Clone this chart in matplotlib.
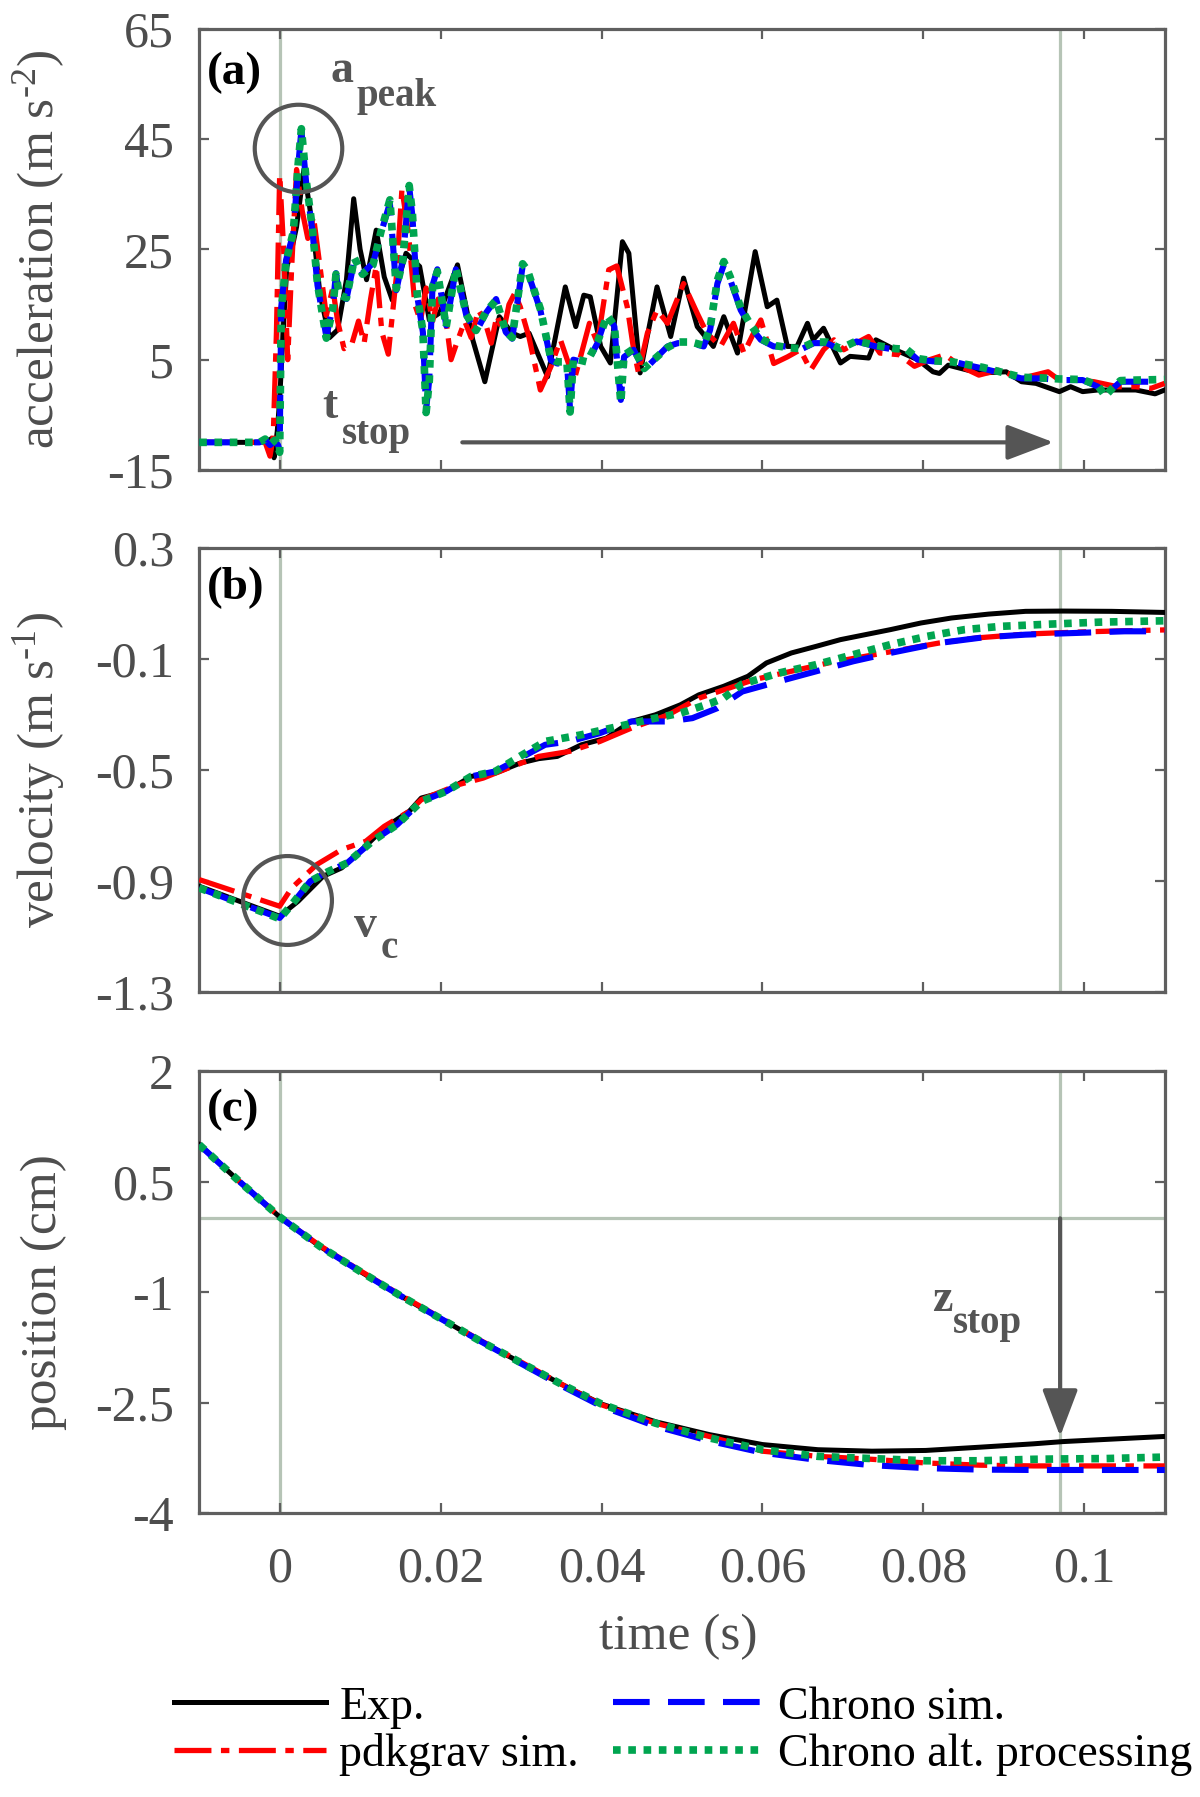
import matplotlib
matplotlib.use("Agg")
import matplotlib.pyplot as plt

plt.rcParams['font.family'] = 'serif'
plt.rcParams['font.serif'] = ['Liberation Serif', 'DejaVu Serif']
plt.rcParams['mathtext.fontset'] = 'custom'
plt.rcParams['mathtext.rm'] = 'Liberation Serif'
plt.rcParams['mathtext.it'] = 'Liberation Serif:italic'
plt.rcParams['mathtext.bf'] = 'Liberation Serif:bold'
plt.rcParams['axes.unicode_minus'] = False

# ---------------- data ----------------
# (a) acceleration, m s^-2
acc_exp_t = [-0.01, -0.006, -0.003, -0.0015, -0.001, -0.0007, -0.0003, 0.0, 0.0005, 0.0009,
             0.0015, 0.0021, 0.003, 0.0037, 0.0043, 0.005, 0.0062, 0.0072, 0.0083, 0.0092,
             0.0100, 0.0108, 0.0120, 0.0130, 0.0140, 0.0157, 0.0174, 0.0186, 0.0199, 0.0221,
             0.0240, 0.0255, 0.0273, 0.0289, 0.0299, 0.0310, 0.0333, 0.0355, 0.0368, 0.0378,
             0.0386, 0.0399, 0.0411, 0.0426, 0.0434, 0.0448, 0.0469, 0.0486, 0.0502, 0.0519,
             0.0539, 0.0552, 0.0569, 0.0591, 0.0606, 0.0618, 0.0631, 0.0643, 0.0656, 0.0663,
             0.0676, 0.0697, 0.0709, 0.0732, 0.0741, 0.0765, 0.0793, 0.0812, 0.0820, 0.0831,
             0.0855, 0.0874, 0.0903, 0.0922, 0.0940, 0.0969, 0.0983, 0.0998, 0.1017, 0.1064,
             0.1088, 0.1100]
acc_exp = [-10, -10, -10, -9.8, -9.3, -12.8, -8, -2.3, 12, 21.9,
           25, 29.1, 39.4, 33, 26.7, 17, 9.0, 10.4, 19.5, 34.2,
           25, 19.5, 28.5, 20, 15.8, 24.3, 21.9, 12.2, 13.5, 22.2,
           8.6, 1.0, 12.8, 9.8, 9.2, 9.8, 1.9, 18.2, 11.0, 16.7,
           16.4, 7.4, 4.4, 26.4, 24.3, 2.6, 18.2, 9.2, 19.8, 11.0,
           7.4, 12.8, 6.2, 24.6, 14.6, 15.8, 7.4, 7.4, 11.6, 8.6,
           10.7, 4.4, 5.6, 5.3, 8.6, 6.8, 5.0, 2.8, 2.5, 4.0,
           3.1, 2.6, 2.8, 1.0, 0.7, -0.8, 0.1, -0.8, -0.5, -0.5,
           -1.2, -0.5]

acc_pdk_t = [-0.01, -0.004, -0.0018, -0.0012, -0.0008, -0.0004, 0.0, 0.0005, 0.0010, 0.0015,
             0.0021, 0.0028, 0.0035, 0.0042, 0.0050, 0.0058, 0.0066, 0.0072, 0.0080, 0.0090,
             0.0098, 0.0105, 0.0113, 0.0120, 0.0127, 0.0135, 0.0145, 0.0152, 0.0160, 0.0168,
             0.0175, 0.0182, 0.0190, 0.0197, 0.0205, 0.0213, 0.0220, 0.0230, 0.0238, 0.0247,
             0.0255, 0.0263, 0.0270, 0.0278, 0.0285, 0.0292, 0.0299, 0.0310, 0.0324, 0.0337,
             0.0349, 0.0366, 0.0373, 0.0385, 0.0395, 0.0409, 0.0419, 0.0432, 0.0440, 0.0446,
             0.0457, 0.0469, 0.0482, 0.0502, 0.0519, 0.0531, 0.0548, 0.0564, 0.0577, 0.0589,
             0.0598, 0.0614, 0.0631, 0.0647, 0.0660, 0.0676, 0.0689, 0.0701, 0.0732, 0.0746,
             0.0770, 0.0789, 0.0808, 0.0827, 0.0846, 0.0869, 0.0893, 0.0922, 0.0955, 0.0969,
             0.0993, 0.1012, 0.1041, 0.1064, 0.1083, 0.1100]
acc_pdk = [-10, -10, -10, -12.5, -9, 10, 38.5, 25, 5, 22,
           39.5, 32, 27, 31, 22, 13, 18, 12, 7, 8,
           12, 8, 16, 22, 10, 6, 20, 36, 28, 15,
           12, 18, 12, 16, 14, 5, 8, 12, 9, 14,
           12, 8, 13, 10, 15, 17, 14.6, 9, -0.5, 3.7,
           8.6, 1.3, 5, 11.6, 8, 21.3, 22, 14.6, 6.8, 2.6,
           9.8, 14, 11.6, 18.8, 13.4, 9.8, 7.4, 11.6, 6.2, 9.8,
           12.2, 4.3, 5.5, 6.8, 3.1, 6.8, 8.6, 6.8, 9.2, 6.2,
           5.9, 3.8, 5, 5.9, 3.8, 2.2, 3.1, 1.6, 2.8, 1.3,
           1.3, 1.0, 0.1, 0.1, -0.2, 0.7]

acc_chrono_t = [-0.01, -0.004, -0.0025, -0.0018, -0.0012, -0.0006, -0.0002, 0.0, 0.0002, 0.0008,
                0.0017, 0.0023, 0.0027, 0.0033, 0.0041, 0.0047, 0.0058, 0.0066, 0.0070, 0.0074,
                0.0083, 0.0093, 0.0103, 0.0116, 0.0126, 0.0137, 0.0145, 0.0153, 0.0161, 0.0165,
                0.0171, 0.0178, 0.0182, 0.0186, 0.0190, 0.0196, 0.0207, 0.0219, 0.0232, 0.0244,
                0.0257, 0.0269, 0.0281, 0.0289, 0.0302, 0.0308, 0.0324, 0.0337, 0.0345, 0.0357,
                0.0361, 0.0365, 0.0382, 0.0395, 0.0407, 0.0416, 0.0419, 0.0424, 0.0428, 0.0440,
                0.0453, 0.0465, 0.0482, 0.0495, 0.0511, 0.0527, 0.0535, 0.0544, 0.0552, 0.0560,
                0.0573, 0.0585, 0.0598, 0.0614, 0.0631, 0.0647, 0.0664, 0.0680, 0.0697, 0.0717,
                0.0741, 0.0765, 0.0779, 0.0793, 0.0812, 0.0836, 0.0855, 0.0874, 0.0898, 0.0922,
                0.0946, 0.0969, 0.0998, 0.1017, 0.1026, 0.1038, 0.1045, 0.1064, 0.1100]
acc_chrono = [-10, -10, -10, -9.5, -10.5, -9.8, -10.5, -11.5, 14.6, 23.1,
              27.9, 40, 46.7, 37, 28, 18.5, 9.2, 14.6, 20.7, 16.5,
              16, 23.1, 20.7, 22.5, 28, 33.4, 17.6, 23.1, 36.4, 31,
              16.5, 10, -4.1, 1.5, 18.5, 21.4, 11.2, 21.4, 13, 10,
              13.6, 16, 10, 8.8, 22, 21, 14, 4.9, 4.3, 4.4,
              -4.1, 5, 4.4, 8, 13.4, 11, 5.5, -2.3, 5.5, 6.8,
              3.1, 4.9, 7.4, 8, 8, 7.4, 10.4, 18.8, 22.2, 19.5,
              14, 11, 8.6, 7.4, 7.4, 6.8, 8, 8, 6.8, 8.3,
              7.4, 6.8, 6.8, 5, 4.7, 4.7, 4, 3.4, 2.5, 1.6,
              1.6, 1.3, 1.3, 0.1, -1.4, 0.1, 1.0, 1.0, 1.0]
acc_alt = [-10, -10, -10, -9.4, -10.4, -9.6, -10.6, -11.8, 14.0, 22.8,
           28.2, 40.5, 46.9, 37.5, 28.4, 18.8, 8.9, 14.2, 20.5, 16.8,
           16.2, 23.4, 20.5, 22.2, 28.3, 34.0, 17.9, 23.0, 36.6, 31.5,
           16.8, 10.2, -4.6, 1.2, 18.2, 21.0, 11.0, 21.6, 13.2, 10.3,
           13.8, 15.8, 10.2, 9.0, 22.4, 21.2, 14.2, 5.2, 4.6, 4.6,
           -4.5, 5.2, 4.6, 8.2, 13.0, 11.2, 5.8, -2.8, 5.8, 7.0,
           3.4, 5.0, 7.2, 8.2, 8.2, 7.6, 10.8, 19.4, 22.8, 20.0,
           14.4, 11.4, 8.8, 7.6, 7.2, 7.0, 8.2, 8.2, 7.0, 8.4,
           7.6, 7.0, 6.9, 5.2, 4.8, 4.6, 4.1, 3.6, 2.7, 1.8,
           1.7, 1.5, 1.4, 0.3, -1.6, 0.3, 1.2, 1.3, 1.4]

# (b) velocity, m s^-1
vel_exp_t = [-0.01, -0.005, 0.0, 0.0023, 0.0054, 0.0077, 0.010, 0.013, 0.0161, 0.0176,
             0.0207, 0.0238, 0.0268, 0.0299, 0.0322, 0.0345, 0.0375, 0.0406, 0.0437, 0.0467,
             0.0498, 0.0521, 0.0552, 0.0582, 0.0605, 0.0636, 0.0667, 0.0697, 0.0728, 0.0759,
             0.0797, 0.0835, 0.0881, 0.0927, 0.0973, 0.1034, 0.11]
vel_exp = [-0.919, -0.973, -1.027, -0.973, -0.883, -0.853, -0.793, -0.709, -0.649, -0.601,
           -0.577, -0.523, -0.511, -0.475, -0.459, -0.451, -0.409, -0.385, -0.325, -0.301,
           -0.265, -0.229, -0.198, -0.162, -0.114, -0.078, -0.054, -0.030, -0.012, 0.006,
           0.030, 0.048, 0.062, 0.072, 0.073, 0.072, 0.068]

vel_pdk_t = [-0.01, -0.005, 0.0, 0.0015, 0.0046, 0.0077, 0.0107, 0.013, 0.0161, 0.0176,
             0.0222, 0.0253, 0.0284, 0.0322, 0.036, 0.0398, 0.0437, 0.0483, 0.0521, 0.0552,
             0.059, 0.0636, 0.0682, 0.0728, 0.0774, 0.082, 0.0866, 0.0927, 0.0989, 0.105, 0.11]
vel_pdk = [-0.895, -0.943, -0.991, -0.925, -0.841, -0.787, -0.757, -0.703, -0.649, -0.607,
           -0.553, -0.529, -0.493, -0.451, -0.433, -0.397, -0.349, -0.301, -0.241, -0.211,
           -0.174, -0.144, -0.114, -0.090, -0.066, -0.042, -0.024, -0.010, -0.003, 0.002, 0.005]

vel_chrono_t = [-0.01, -0.005, 0.0, 0.0015, 0.0038, 0.0061, 0.0084, 0.0115, 0.0146, 0.0176,
                0.0207, 0.0238, 0.0268, 0.0299, 0.033, 0.036, 0.0398, 0.0437, 0.0483, 0.0513,
                0.0544, 0.0575, 0.0621, 0.0667, 0.0713, 0.0759, 0.082, 0.0874, 0.0927, 0.0989,
                0.105, 0.11]
vel_chrono = [-0.925, -0.980, -1.033, -0.985, -0.901, -0.865, -0.835, -0.757, -0.697, -0.613,
              -0.577, -0.523, -0.505, -0.457, -0.409, -0.397, -0.367, -0.325, -0.325, -0.313,
              -0.277, -0.217, -0.180, -0.144, -0.108, -0.078, -0.042, -0.022, -0.012, -0.006,
              0.0, 0.0]

vel_alt_t = [-0.01, -0.005, 0.0, 0.0015, 0.0038, 0.0061, 0.0084, 0.0115, 0.0146, 0.0176,
             0.0207, 0.0238, 0.0268, 0.0299, 0.033, 0.0375, 0.0421, 0.0467, 0.0498, 0.0536,
             0.0552, 0.0575, 0.0621, 0.0667, 0.0713, 0.0759, 0.0805, 0.0851, 0.0897, 0.0958,
             0.1019, 0.11]
vel_alt = [-0.925, -0.980, -1.036, -0.985, -0.901, -0.865, -0.835, -0.757, -0.697, -0.613,
           -0.577, -0.523, -0.505, -0.450, -0.397, -0.373, -0.343, -0.313, -0.295, -0.259,
           -0.240, -0.190, -0.150, -0.120, -0.084, -0.048, -0.018, 0.006, 0.018, 0.026,
           0.033, 0.038]

# (c) position, cm
pos_t = [-0.01, -0.005, 0.0, 0.005, 0.01, 0.015, 0.02, 0.025, 0.03, 0.035,
         0.04, 0.0467, 0.0534, 0.06, 0.0669, 0.0736, 0.0803, 0.087, 0.0937, 0.0973,
         0.1027, 0.11]
pos_exp = [1.0, 0.5, 0.02, -0.38, -0.72, -1.05, -1.36, -1.67, -1.96, -2.25,
           -2.52, -2.76, -2.935, -3.07, -3.14, -3.16, -3.15, -3.106, -3.06, -3.03,
           -3.0, -2.96]
pos_pdk = [1.0, 0.5, 0.02, -0.37, -0.71, -1.04, -1.35, -1.66, -1.95, -2.25,
           -2.53, -2.78, -2.96, -3.16, -3.23, -3.27, -3.32, -3.35, -3.36, -3.36,
           -3.36, -3.36]
pos_chrono = [1.0, 0.5, 0.02, -0.38, -0.72, -1.05, -1.36, -1.67, -1.97, -2.27,
              -2.55, -2.82, -3.02, -3.18, -3.28, -3.35, -3.39, -3.41, -3.415, -3.415,
              -3.415, -3.415]
pos_alt = [1.0, 0.5, 0.02, -0.38, -0.72, -1.05, -1.36, -1.67, -1.96, -2.25,
           -2.52, -2.78, -2.98, -3.14, -3.23, -3.26, -3.29, -3.29, -3.27, -3.265,
           -3.26, -3.24]

labels = ['Exp.', 'pdkgrav sim.', 'Chrono sim.', 'Chrono alt. processing']

t_impact = 0.0
t_stop = 0.097

xticks = [0, 0.02, 0.04, 0.06, 0.08, 0.1]
xticklabels = ['0', '0.02', '0.04', '0.06', '0.08', '0.1']
acc_ticks = [-15, 5, 25, 45, 65]
vel_ticks = [-1.3, -0.9, -0.5, -0.1, 0.3]
pos_ticks = [-4, -2.5, -1, 0.5, 2]
pos_ticklabels = ['-4', '-2.5', '-1', '0.5', '2']

# ---------------- styling ----------------
TXT = '#4d4d4d'
SPINE = '#5f5f5f'
GUIDE = '#b6c4b6'
ANN = '#555555'

styles = [
    dict(color='black', lw=3.6, ls='-', zorder=3),
    dict(color='#ff0000', lw=3.8, ls=(0, (7, 1.8, 1.6, 1.8)), zorder=4),
    dict(color='#0000ff', lw=4.4, ls=(0, (6, 3)), zorder=5),
    dict(color='#00a550', lw=5.5, ls=(0, (1, 1)), zorder=6),
]

fig = plt.figure(figsize=(12, 17.97), dpi=100)
left, width = 0.166, 0.8046
ax_a = fig.add_axes([left, 0.7385, width, 0.2454])
ax_b = fig.add_axes([left, 0.448, width, 0.247])
ax_c = fig.add_axes([left, 0.158, width, 0.246])

series_a = [(acc_exp_t, acc_exp), (acc_pdk_t, acc_pdk), (acc_chrono_t, acc_chrono), (acc_chrono_t, acc_alt)]
series_b = [(vel_exp_t, vel_exp), (vel_pdk_t, vel_pdk), (vel_chrono_t, vel_chrono), (vel_alt_t, vel_alt)]
series_c = [(pos_t, pos_exp), (pos_t, pos_pdk), (pos_t, pos_chrono), (pos_t, pos_alt)]

handles = []
for ax, series in [(ax_a, series_a), (ax_b, series_b), (ax_c, series_c)]:
    for (t, y), st, lab in zip(series, styles, labels):
        ln, = ax.plot(t, y, label=lab, **st)
        if ax is ax_c:
            handles.append(ln)
    ax.axvline(t_impact, color=GUIDE, lw=2.3, zorder=1)
    ax.axvline(t_stop, color=GUIDE, lw=2.3, zorder=1)
    ax.set_xlim(-0.01, 0.11)
    ax.set_xticks(xticks)
    ax.tick_params(direction='in', length=7, width=1.6, top=True, right=True,
                   colors=SPINE, labelcolor=TXT, labelsize=36)
    ax.tick_params(axis='y', pad=18)
    ax.tick_params(axis='x', pad=24)
    for sp in ax.spines.values():
        sp.set_color(SPINE)
        sp.set_linewidth(2.3)

ax_c.axhline(0, color=GUIDE, lw=2.3, zorder=1)

ax_a.set_ylim(-15, 65)
ax_a.set_yticks(acc_ticks)
ax_b.set_ylim(-1.3, 0.3)
ax_b.set_yticks(vel_ticks)
ax_b.set_yticklabels([str(v) for v in vel_ticks])
ax_c.set_ylim(-4, 2)
ax_c.set_yticks(pos_ticks)
ax_c.set_yticklabels(pos_ticklabels)

ax_a.set_xticklabels([])
ax_b.set_xticklabels([])
ax_c.set_xticklabels(xticklabels)

ax_a.set_ylabel(r'acceleration (m s$^{\text{-2}}$)', fontsize=37, color=TXT)
ax_b.set_ylabel(r'velocity (m s$^{\text{-1}}$)', fontsize=37, color=TXT)
ax_c.set_ylabel('position (cm)', fontsize=37, color=TXT)
for ax in (ax_a, ax_b, ax_c):
    ax.yaxis.set_label_coords(-0.137, 0.5)
ax_c.set_xlabel('time (s)', fontsize=37, color=TXT)
ax_c.xaxis.set_label_coords(0.496, -0.228)

# panel tags
for ax, tag, yy in [(ax_a, '(a)', 0.90), (ax_b, '(b)', 0.91), (ax_c, '(c)', 0.912)]:
    ax.text(0.008, yy, tag, transform=ax.transAxes, fontsize=34, fontweight='bold',
            color='black', va='center', ha='left')

# annotations
big, small = 33, 28
ax_a.plot([0.00224], [43.4], 'o', ms=63, mfc='none', mec=ANN, mew=3, zorder=8)
ax_a.text(0.0063, 55.4, 'a', fontsize=big, fontweight='bold', color=ANN, va='baseline')
ax_a.text(0.0096, 51.0, 'peak', fontsize=small, fontweight='bold', color=ANN, va='baseline')
ax_a.text(0.0053, -5.6, 't', fontsize=big, fontweight='bold', color=ANN, va='baseline')
ax_a.text(0.0077, -10.3, 'stop', fontsize=small, fontweight='bold', color=ANN, va='baseline')
ax_a.annotate('', xy=(0.0962, -10), xytext=(0.0227, -10),
              arrowprops=dict(arrowstyle='-|>,head_length=1.45,head_width=0.55',
                              mutation_scale=20, color=ANN, lw=3, shrinkA=0, shrinkB=0))

ax_b.plot([0.0009], [-0.970], 'o', ms=64, mfc='none', mec=ANN, mew=3, zorder=8)
ax_b.text(0.0092, -1.102, 'v', fontsize=big, fontweight='bold', color=ANN, va='baseline')
ax_b.text(0.01255, -1.177, 'c', fontsize=small, fontweight='bold', color=ANN, va='baseline')

ax_c.text(0.0811, -1.258, 'z', fontsize=big, fontweight='bold', color=ANN, va='baseline')
ax_c.text(0.0837, -1.556, 'stop', fontsize=small, fontweight='bold', color=ANN, va='baseline')
ax_c.annotate('', xy=(t_stop, -2.96), xytext=(t_stop, 0.0),
              arrowprops=dict(arrowstyle='-|>,head_length=1.45,head_width=0.55',
                              mutation_scale=20, color=ANN, lw=3, shrinkA=0, shrinkB=0),
              zorder=9)

fig.legend(handles, labels, loc='center', bbox_to_anchor=(0.5696, 0.0367), ncol=2,
           frameon=False, fontsize=33, handlelength=3.3, handletextpad=0.3,
           columnspacing=0.75, labelspacing=0.1, borderpad=0, borderaxespad=0)

fig.savefig('out.png', dpi=100)
